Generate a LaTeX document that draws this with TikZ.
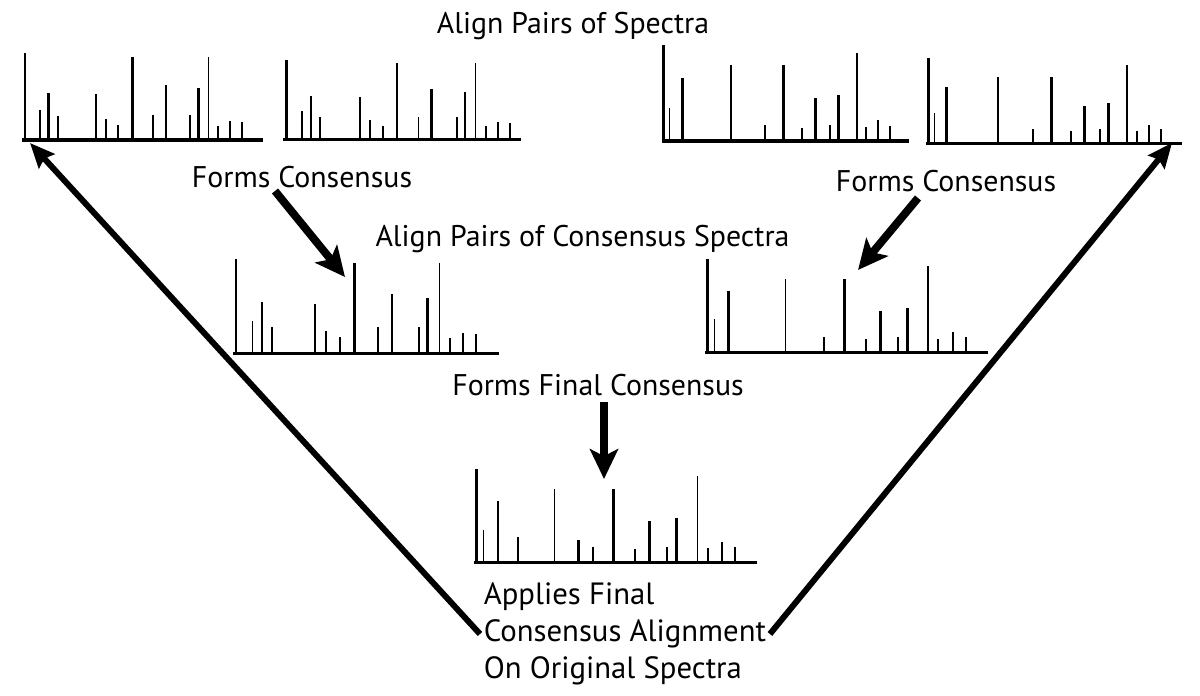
\documentclass[tikz,border=0pt]{standalone}
\usepackage{fontspec}
\setmainfont{PT Sans}
\usetikzlibrary{arrows.meta}

\begin{document}
\begin{tikzpicture}[x=0.02cm, y=-0.02cm,
  eje/.style={line width=1.8pt},
  texto/.style={font=\fontsize{17}{21}\selectfont, inner sep=2pt},
  flecha/.style={line width=4.5pt, -{Stealth[length=17pt, width=16pt, inset=4pt]}},
  flechalarga/.style={line width=3.4pt, -{Stealth[length=14pt, width=12pt, inset=2pt]}}]
\useasboundingbox (0,0) rectangle (1200,696);

% Coordenadas de las flechas
\coordinate (a1) at (275,191);
\coordinate (b1) at (345,277);
\coordinate (a2) at (918,198);
\coordinate (b2) at (858,270);
\coordinate (a3) at (604,402);
\coordinate (b3) at (604,479);
\coordinate (b4) at (30,143);
\coordinate (b5) at (1172,143);

% Espectro 1
\draw[eje] (22,140) coordinate (s1a) -- (263,140) coordinate (s1b);
\foreach \x/\t/\w in {25/53/1.7, 40/110/0.8, 48.7/93/1.7, 57.7/116/1.2,
  96/94/0.8, 106.3/119/1.2, 118.3/125/1.2, 132.3/57/1.7, 153.3/115/1.2,
  166/85/1.7, 190.3/115/1.2, 198.3/88/1.7, 208.7/57/0.8, 218.3/126/1.2,
  230.3/121/1.2, 242/122/0.8}
  \draw[line width=\w pt] (\x,140) -- (\x,\t);

% Espectro 2
\draw[eje] (283,139.5) coordinate (s2a) -- (521,139.5) coordinate (s2b);
\foreach \x/\t/\w in {286.7/60/1.7, 302.3/111/1.2, 311/96/1.7, 320.3/117/1.2,
  360/97/0.8, 370/120/1.2, 382.7/126/1.2, 397/63/1.7, 418.7/117/0.8,
  431.7/89/1.7, 456.7/117/1.2, 465/92/1.7, 475.7/63/0.8, 486/126/1.2,
  498.3/122/1.2, 510/123/1.2}
  \draw[line width=\w pt] (\x,139.5) -- (\x,\t);

% Espectro 3
\draw[eje] (661.7,141) coordinate (s3a) -- (909,141) coordinate (s3b);
\foreach \x/\t/\w in {663.3/45/1.7, 669.7/108/0.8, 682/78/1.7, 731/65/1.2,
  765/125/1.2, 783.3/65/1.7, 802/128/1.2, 815/98/1.7, 830.3/125/1.2,
  838.7/95/1.7, 857/53/0.8, 865.7/127/1.2, 878/120/1.2, 889.7/126/1.2}
  \draw[line width=\w pt] (\x,141) -- (\x,\t);

% Espectro 4
\draw[eje] (926,143.7) coordinate (s4a) -- (1182,143.7) coordinate (s4b);
\foreach \x/\t/\w in {928/58/1.7, 934.3/113/0.8, 946.7/87/1.7, 998/77/1.2,
  1033/129/1.2, 1051.7/77/1.7, 1071/131/1.2, 1084/106/1.7, 1100/129/1.2,
  1108.3/103/1.7, 1127/65/0.8, 1137/131/1.2, 1149/125/1.2, 1161/129/1.2}
  \draw[line width=\w pt] (\x,143.7) -- (\x,\t);

% Espectro 5
\draw[eje] (233,353.3) coordinate (s5a) -- (499,353.3) coordinate (s5b);
\foreach \x/\t/\w in {236/259/1.7, 252.7/321/0.8, 262/302/1.7, 272.3/327/1.2,
  315/304/0.8, 326/331/1.2, 339.7/337/1.2, 354.7/263/1.7, 378/327/1.2,
  392/294/1.7, 419/327/1.2, 427.7/298/1.7, 439.3/263/0.8, 450/338/1.2,
  463/333/1.2, 476/334/1.2}
  \draw[line width=\w pt] (\x,353.3) -- (\x,\t);

% Espectro 6
\draw[eje] (705,352.7) coordinate (s6a) -- (988,352.7) coordinate (s6b);
\foreach \x/\t/\w in {707.7/259/1.7, 714.3/319/0.8, 728.7/291/1.7, 785.3/279/0.8,
  823.7/337/1.2, 844.3/279/1.7, 865.7/339/1.2, 880.3/311/1.7, 898/337/1.2,
  907.3/308/1.7, 928/266/0.8, 938.3/339/1.2, 952.7/332/1.2, 965.7/337/1.2}
  \draw[line width=\w pt] (\x,352.7) -- (\x,\t);

% Espectro 7
\draw[eje] (474,562.7) coordinate (s7a) -- (757,562.7) coordinate (s7b);
\foreach \x/\t/\w in {476.7/469/1.7, 483.7/530/0.8, 498/501/1.7, 518.3/537/1.2,
  554.3/489/0.8, 578/540/1.7, 592.7/547/1.2, 613.3/489/1.7, 635/549/0.8,
  649.7/521/1.7, 667.3/547/1.2, 676.7/518/1.7, 697.3/476/0.8, 707.7/548/1.2,
  722/542/1.2, 735.3/547/1.2}
  \draw[line width=\w pt] (\x,562.7) -- (\x,\t);

% Etiquetas
\node[texto] (alinea) at (573,26) {Align Pairs of Spectra};
\node[texto] (forma1) at (302,177) {Forms Consensus};
\node[texto] (forma2) at (946,181) {Forms Consensus};
\node[texto] (alineac) at (582.5,239) {Align Pairs of Consensus Spectra};
\node[texto] (final) at (598,385) {Forms Final Consensus};
\node[texto, align=left, anchor=west, font=\fontsize{17.5}{21}\selectfont]
  (aplica) at (480,634) {Applies Final\\Consensus Alignment\\On Original Spectra};

% Flechas
\draw[flecha] (a1) -- (b1);
\draw[flecha] (a2) -- (b2);
\draw[flecha] (a3) -- (b3);
\draw[flechalarga] (aplica.west) -- (b4);
\draw[flechalarga] (aplica.east) -- (b5);
\end{tikzpicture}
\end{document}
